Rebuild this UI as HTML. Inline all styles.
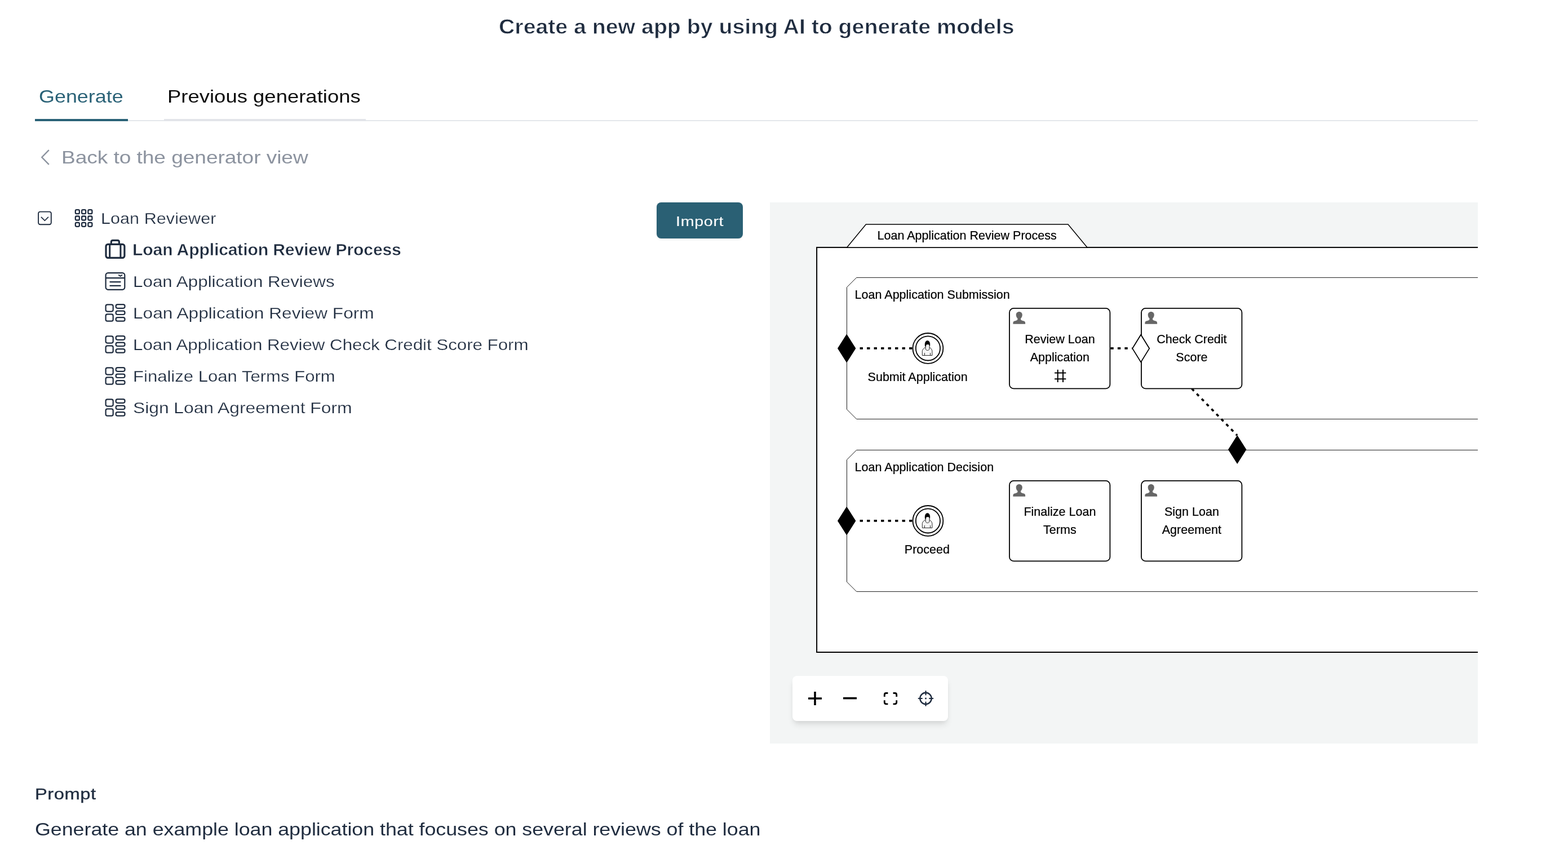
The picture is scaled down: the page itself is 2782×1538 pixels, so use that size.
<!DOCTYPE html>
<html lang="en">
<head>
<meta charset="utf-8">
<title>Create a new app by using AI to generate models</title>
<style>
*{box-sizing:border-box;margin:0;padding:0}
html,body{width:2782px;height:1538px;background:#fff;overflow:hidden}
body{font-family:"Liberation Sans", sans-serif;position:relative;color:#1f2c3f}
.tx{position:absolute;white-space:nowrap;transform-origin:0 50%;will-change:transform}
ul,li{list-style:none}
a.tx{text-decoration:none;cursor:pointer}
button{border:0;padding:0;margin:0;font:inherit;color:inherit;cursor:pointer;display:block}
.rule{position:absolute;left:62px;top:213px;width:2560px;height:2px;background:#e4e7eb}
.tabline{position:absolute;top:211px;height:4px}
.tabline.on{left:62px;width:165px;background:#2a6277}
.tabline.off{left:291px;width:358px;background:#e2e4e9}
.ic{position:absolute;overflow:visible}
.btn{position:absolute;left:1165px;top:359px;width:153px;height:64px;border-radius:8px;background:#2a6074;box-shadow:0 3px 5px -2px rgba(0,0,0,.10),0 1px 2px -1px rgba(0,0,0,.06)}
.canvas{position:absolute;left:1366px;top:359px;width:1256px;height:960px;background:#f3f5f5;overflow:hidden}
.dia{position:absolute;left:0;top:0;will-change:transform}
.dia text{stroke:#000;stroke-width:0.25px;paint-order:stroke fill}
.toolbar{position:absolute;left:40px;top:840px;width:276px;height:80px;border-radius:8px;background:#fff;box-shadow:0 8px 12px -2px rgba(0,0,0,.10),0 4px 8px -2px rgba(0,0,0,.06)}
.toolbar svg{position:absolute;left:0;top:0}
</style>
</head>
<body>
<header>
<h1 id="title" class="tx" style="left:885.05px;top:29.00px;font-size:37.5px;line-height:37.5px;font-weight:700;color:#1f2c3f;letter-spacing:-0.06px;transform:scaleX(1.05);-webkit-text-stroke:0.8px #fff;">Create a new app by using AI to generate models</h1>
</header>
<nav>
<a id="tab1" class="tx" style="left:69.05px;top:155.00px;font-size:32px;line-height:32px;font-weight:400;color:#2a6277;letter-spacing:0.03px;transform:scaleX(1.12);">Generate</a>
<a id="tab2" class="tx" style="left:297.07px;top:155.00px;font-size:32px;line-height:32px;font-weight:400;color:#0b0b0b;letter-spacing:0px;transform:scaleX(1.14);">Previous generations</a>
<div class="rule"></div>
<div class="tabline on"></div>
<div class="tabline off"></div>
</nav>
<main>
<svg class="ic" style="left:68px;top:262px" width="24" height="34" viewBox="68 262 24 34" fill="none" stroke="#8c939f" stroke-width="2.4" stroke-linecap="butt" stroke-linejoin="miter"><path d="M86.8 266.2 L74.3 279 L86.8 291.8"/></svg>
<a id="back" class="tx" style="left:109.03px;top:263.00px;font-size:32px;line-height:32px;font-weight:400;color:#8c939f;letter-spacing:-0.06px;transform:scaleX(1.16);">Back to the generator view</a>
<ul class="tree">
<li>
<svg class="ic" style="left:64px;top:368px" width="104" height="38" viewBox="64 368 104 38" fill="none" stroke="#1f2c3f" stroke-width="1.9">
<rect x="68.1" y="375.6" width="22.7" height="22.6" rx="3.2"/>
<path d="M72.9 384.8 L79.4 391.3 L85.9 384.8" stroke-width="1.7"/>
<g stroke-width="2.3"><rect x="133.85" y="372.20" width="7" height="7" rx="2"/><rect x="145.10" y="372.20" width="7" height="7" rx="2"/><rect x="156.35" y="372.20" width="7" height="7" rx="2"/><rect x="133.85" y="383.50" width="7" height="7" rx="2"/><rect x="145.10" y="383.50" width="7" height="7" rx="2"/><rect x="156.35" y="383.50" width="7" height="7" rx="2"/><rect x="133.85" y="394.80" width="7" height="7" rx="2"/><rect x="145.10" y="394.80" width="7" height="7" rx="2"/><rect x="156.35" y="394.80" width="7" height="7" rx="2"/></g>
</svg>
<span id="t0" class="tx" style="left:179.32px;top:374.00px;font-size:28px;line-height:28px;font-weight:400;color:#1f2c3f;letter-spacing:0.06px;transform:scaleX(1.09);-webkit-text-stroke:0.25px #fff;">Loan Reviewer</span>
<ul>
<li>
<svg class="ic" style="left:184px;top:422px" width="42" height="40" viewBox="184 422 42 40" fill="none" stroke="#1f2c3f" stroke-width="3.2" stroke-linejoin="round">
<rect x="188" y="433.4" width="32.9" height="24" rx="3.6"/>
<path d="M194.7 433.4 V457.4 M213.9 433.4 V457.4" stroke-width="3"/>
<path d="M197.3 433.4 V429.4 Q197.3 426.4 200.3 426.4 H208.4 Q211.4 426.4 211.4 429.4 V433.4"/>
</svg>
<strong id="t1" class="tx" style="left:235.22px;top:429.00px;font-size:29px;line-height:29px;font-weight:700;color:#1f2c3f;letter-spacing:-0.15px;transform:scaleX(1.04);-webkit-text-stroke:0.5px #fff;">Loan Application Review Process</strong>
</li>
<li>
<svg class="ic" style="left:184px;top:480px" width="42" height="38" viewBox="184 480 42 38" fill="none" stroke="#1f2c3f" stroke-width="2.2" stroke-linecap="round" stroke-linejoin="round">
<rect x="187.6" y="484.1" width="33.7" height="29.7" rx="4.2"/>
<path d="M187.6 493.1 H221.3" stroke-linecap="butt"/>
<path d="M195.4 500.1 H213.6 M195.4 506.9 H213.6"/>
<path d="M210.8 488 L213.6 489.9 L216.4 488" stroke-width="2"/>
</svg>
<span id="t2" class="tx" style="left:235.95px;top:486.00px;font-size:28px;line-height:28px;font-weight:400;color:#1f2c3f;letter-spacing:0.01px;transform:scaleX(1.12);-webkit-text-stroke:0.25px #fff;">Loan Application Reviews</span>
</li>
<li>
<svg class="ic" style="left:184px;top:537px" width="42" height="36" viewBox="184 537 42 36" fill="none" stroke="#1f2c3f" stroke-width="2.2">
<rect x="187.6" y="540.3" width="13.1" height="12.3" rx="3"/>
<rect x="187.6" y="557.4" width="13.1" height="12.3" rx="3"/>
<rect x="205.6" y="540.1" width="15.9" height="6.7" rx="3"/>
<rect x="205.6" y="551.7" width="15.9" height="6.3" rx="3"/>
<rect x="205.6" y="563.1" width="15.9" height="6.6" rx="3"/>
</svg>
<span id="t3" class="tx" style="left:235.93px;top:542.00px;font-size:28px;line-height:28px;font-weight:400;color:#1f2c3f;letter-spacing:0.01px;transform:scaleX(1.13);-webkit-text-stroke:0.25px #fff;">Loan Application Review Form</span>
</li>
<li>
<svg class="ic" style="left:184px;top:593px" width="42" height="36" viewBox="184 593 42 36" fill="none" stroke="#1f2c3f" stroke-width="2.2">
<rect x="187.6" y="596.3" width="13.1" height="12.3" rx="3"/>
<rect x="187.6" y="613.4" width="13.1" height="12.3" rx="3"/>
<rect x="205.6" y="596.1" width="15.9" height="6.7" rx="3"/>
<rect x="205.6" y="607.7" width="15.9" height="6.3" rx="3"/>
<rect x="205.6" y="619.1" width="15.9" height="6.6" rx="3"/>
</svg>
<span id="t4" class="tx" style="left:235.97px;top:598.00px;font-size:28px;line-height:28px;font-weight:400;color:#1f2c3f;letter-spacing:-0.05px;transform:scaleX(1.12);-webkit-text-stroke:0.25px #fff;">Loan Application Review Check Credit Score Form</span>
</li>
<li>
<svg class="ic" style="left:184px;top:649px" width="42" height="36" viewBox="184 649 42 36" fill="none" stroke="#1f2c3f" stroke-width="2.2">
<rect x="187.6" y="652.3" width="13.1" height="12.3" rx="3"/>
<rect x="187.6" y="669.4" width="13.1" height="12.3" rx="3"/>
<rect x="205.6" y="652.1" width="15.9" height="6.7" rx="3"/>
<rect x="205.6" y="663.7" width="15.9" height="6.3" rx="3"/>
<rect x="205.6" y="675.1" width="15.9" height="6.6" rx="3"/>
</svg>
<span id="t5" class="tx" style="left:235.98px;top:654.00px;font-size:28px;line-height:28px;font-weight:400;color:#1f2c3f;letter-spacing:-0px;transform:scaleX(1.11);-webkit-text-stroke:0.25px #fff;">Finalize Loan Terms Form</span>
</li>
<li>
<svg class="ic" style="left:184px;top:705px" width="42" height="36" viewBox="184 705 42 36" fill="none" stroke="#1f2c3f" stroke-width="2.2">
<rect x="187.6" y="708.3" width="13.1" height="12.3" rx="3"/>
<rect x="187.6" y="725.4" width="13.1" height="12.3" rx="3"/>
<rect x="205.6" y="708.1" width="15.9" height="6.7" rx="3"/>
<rect x="205.6" y="719.7" width="15.9" height="6.3" rx="3"/>
<rect x="205.6" y="731.1" width="15.9" height="6.6" rx="3"/>
</svg>
<span id="t6" class="tx" style="left:236.46px;top:710.00px;font-size:28px;line-height:28px;font-weight:400;color:#1f2c3f;letter-spacing:-0.07px;transform:scaleX(1.14);-webkit-text-stroke:0.25px #fff;">Sign Loan Agreement Form</span>
</li>
</ul>
</li>
</ul>
<button class="btn" type="button"><span id="imp" class="tx" style="left:34.18px;top:22.00px;font-size:24.5px;line-height:24.5px;font-weight:400;color:#ffffff;letter-spacing:0.57px;transform:scaleX(1.17);-webkit-text-stroke:0.1px #fff;">Import</span></button>
<section class="canvas">
<svg width="1256" height="960" viewBox="1366 359 1256 960" font-family='"Liberation Sans", sans-serif' font-size="22.2" fill="#000" class="dia">
<rect x="1449.1" y="438.9" width="1300" height="718.1" fill="#fff" stroke="#000" stroke-width="2"/>
<polygon points="1502.6,438.9 1536.4,398.1 1895,398.1 1929,438.9" fill="#fff" stroke="#000" stroke-width="1.5"/>
<text transform="translate(1715.70 425.10) scale(0.97 1)" text-anchor="middle">Loan Application Review Process</text>
<polygon points="1519.7,492.4 2720,492.4 2720,743.4 1519.7,743.4 1502.5,726.2 1502.5,509.6" fill="#fff" stroke="#111" stroke-width="0.95"/>
<text transform="translate(1516.60 530.10) scale(0.97 1)" text-anchor="start">Loan Application Submission</text>
<polygon points="1519.7,798.4 2720,798.4 2720,1049.4 1519.7,1049.4 1502.5,1032.2 1502.5,815.6" fill="#fff" stroke="#111" stroke-width="0.95"/>
<text transform="translate(1516.60 836.10) scale(0.97 1)" text-anchor="start">Loan Application Decision</text>
<path d="M1525.6 617.9 H1619.6" stroke="#000" stroke-width="3.6" stroke-dasharray="5.36 7.14" fill="none"/>
<path d="M1525.6 923.9 H1619.6" stroke="#000" stroke-width="3.6" stroke-dasharray="5.36 7.14" fill="none"/>
<path d="M1970.4 617.9 H2008.5" stroke="#000" stroke-width="3.6" stroke-dasharray="5.36 7.14" fill="none"/>
<path d="M2114.6 689.6 L2195 772.3" stroke="#000" stroke-width="3.6" stroke-dasharray="5.36 7.14" fill="none"/>
<polygon points="1486.0,618 1502.2,592.5 1518.4,618 1502.2,643.5" fill="#000"/>
<polygon points="1486.0,924.0 1502.2,898.5 1518.4,924.0 1502.2,949.5" fill="#000"/>
<circle cx="1646.45" cy="617.9" r="26.9" fill="#fff" stroke="#000" stroke-width="1.8"/>
<circle cx="1646.45" cy="617.9" r="21.6" fill="#fff" stroke="#000" stroke-width="1.8"/>
<g transform="translate(1636.00,604.00)" stroke-linejoin="round">
<path d="M5.9 12.2 C3 13.5 0.7 16 0.3 18.6 L0.3 26.5 L17.9 26.5 L17.9 18.6 C17.5 16 15.6 13.5 13.3 12.2 Z" fill="#f5f5f5" stroke="#111" stroke-width="0.9"/>
<path d="M5.9 6 L6.2 15 C6.7 17 8.7 17.6 9.6 17.6 C10.5 17.6 12.5 17 13 15 L13.3 6 Z" fill="#f1f1f1" stroke="#111" stroke-width="0.9"/>
<path d="M5.4 10.3 C4.2 4.2 6.4 0.3 9.5 0.3 C12.6 0.3 14.8 4.2 13.6 9.8 L12.7 8.6 C12.5 7.3 12 6.9 11.2 6.9 L8.6 6.9 C7.4 6.9 6.8 8 6.7 10.6 Z" fill="#000" stroke="#000" stroke-width="0.4"/>
<path d="M4.45 22 V26.2 M14.55 22 V26.2" stroke="#111" stroke-width="0.9" fill="none"/>
</g>
<circle cx="1646.45" cy="923.9" r="26.9" fill="#fff" stroke="#000" stroke-width="1.8"/>
<circle cx="1646.45" cy="923.9" r="21.6" fill="#fff" stroke="#000" stroke-width="1.8"/>
<g transform="translate(1636.00,910.00)" stroke-linejoin="round">
<path d="M5.9 12.2 C3 13.5 0.7 16 0.3 18.6 L0.3 26.5 L17.9 26.5 L17.9 18.6 C17.5 16 15.6 13.5 13.3 12.2 Z" fill="#f5f5f5" stroke="#111" stroke-width="0.9"/>
<path d="M5.9 6 L6.2 15 C6.7 17 8.7 17.6 9.6 17.6 C10.5 17.6 12.5 17 13 15 L13.3 6 Z" fill="#f1f1f1" stroke="#111" stroke-width="0.9"/>
<path d="M5.4 10.3 C4.2 4.2 6.4 0.3 9.5 0.3 C12.6 0.3 14.8 4.2 13.6 9.8 L12.7 8.6 C12.5 7.3 12 6.9 11.2 6.9 L8.6 6.9 C7.4 6.9 6.8 8 6.7 10.6 Z" fill="#000" stroke="#000" stroke-width="0.4"/>
<path d="M4.45 22 V26.2 M14.55 22 V26.2" stroke="#111" stroke-width="0.9" fill="none"/>
</g>
<text transform="translate(1628.10 676.10) scale(0.97 1)" text-anchor="middle">Submit Application</text>
<text transform="translate(1644.90 982.10) scale(0.97 1)" text-anchor="middle">Proceed</text>
<rect x="1791.0" y="546.9" width="178.4" height="142.5" rx="7.5" ry="7.5" fill="#fff" stroke="#000" stroke-width="1.8"/>
<g transform="translate(1797.4,553.0)" fill="#666"><path d="M10.85 0 C14.2 0 16.4 2.4 16.4 5.6 C16.4 8.2 15.3 10.4 13.9 11.6 C13.5 12.6 13.5 13.6 14.1 14.5 C15.4 15.5 17.6 16 19.2 16.6 C20.9 17.3 21.7 18.4 21.7 20 L21.7 21.8 L0 21.8 L0 20 C0 18.4 0.8 17.3 2.5 16.6 C4.1 16 6.3 15.5 7.6 14.5 C8.2 13.6 8.2 12.6 7.8 11.6 C6.4 10.4 5.3 8.2 5.3 5.6 C5.3 2.4 7.5 0 10.85 0 Z"/></g>
<text transform="translate(1880.40 609.10) scale(0.97 1)" text-anchor="middle">Review Loan</text>
<text transform="translate(1880.40 641.10) scale(0.97 1)" text-anchor="middle">Application</text>
<path d="M1876.7 655.7 V677.9 M1886.0 655.7 V677.9 M1871.1 661.4 H1891.3 M1871.1 672.2 H1891.3" stroke="#000" stroke-width="2" fill="none"/>
<rect x="2025.0" y="546.9" width="178.4" height="142.5" rx="7.5" ry="7.5" fill="#fff" stroke="#000" stroke-width="1.8"/>
<g transform="translate(2031.4,553.0)" fill="#666"><path d="M10.85 0 C14.2 0 16.4 2.4 16.4 5.6 C16.4 8.2 15.3 10.4 13.9 11.6 C13.5 12.6 13.5 13.6 14.1 14.5 C15.4 15.5 17.6 16 19.2 16.6 C20.9 17.3 21.7 18.4 21.7 20 L21.7 21.8 L0 21.8 L0 20 C0 18.4 0.8 17.3 2.5 16.6 C4.1 16 6.3 15.5 7.6 14.5 C8.2 13.6 8.2 12.6 7.8 11.6 C6.4 10.4 5.3 8.2 5.3 5.6 C5.3 2.4 7.5 0 10.85 0 Z"/></g>
<text transform="translate(2114.40 609.10) scale(0.97 1)" text-anchor="middle">Check Credit</text>
<text transform="translate(2114.40 641.10) scale(0.97 1)" text-anchor="middle">Score</text>
<rect x="1791.0" y="852.9" width="178.4" height="142.5" rx="7.5" ry="7.5" fill="#fff" stroke="#000" stroke-width="1.8"/>
<g transform="translate(1797.4,859.0)" fill="#666"><path d="M10.85 0 C14.2 0 16.4 2.4 16.4 5.6 C16.4 8.2 15.3 10.4 13.9 11.6 C13.5 12.6 13.5 13.6 14.1 14.5 C15.4 15.5 17.6 16 19.2 16.6 C20.9 17.3 21.7 18.4 21.7 20 L21.7 21.8 L0 21.8 L0 20 C0 18.4 0.8 17.3 2.5 16.6 C4.1 16 6.3 15.5 7.6 14.5 C8.2 13.6 8.2 12.6 7.8 11.6 C6.4 10.4 5.3 8.2 5.3 5.6 C5.3 2.4 7.5 0 10.85 0 Z"/></g>
<text transform="translate(1880.40 915.10) scale(0.97 1)" text-anchor="middle">Finalize Loan</text>
<text transform="translate(1880.40 947.10) scale(0.97 1)" text-anchor="middle">Terms</text>
<rect x="2025.0" y="852.9" width="178.4" height="142.5" rx="7.5" ry="7.5" fill="#fff" stroke="#000" stroke-width="1.8"/>
<g transform="translate(2031.4,859.0)" fill="#666"><path d="M10.85 0 C14.2 0 16.4 2.4 16.4 5.6 C16.4 8.2 15.3 10.4 13.9 11.6 C13.5 12.6 13.5 13.6 14.1 14.5 C15.4 15.5 17.6 16 19.2 16.6 C20.9 17.3 21.7 18.4 21.7 20 L21.7 21.8 L0 21.8 L0 20 C0 18.4 0.8 17.3 2.5 16.6 C4.1 16 6.3 15.5 7.6 14.5 C8.2 13.6 8.2 12.6 7.8 11.6 C6.4 10.4 5.3 8.2 5.3 5.6 C5.3 2.4 7.5 0 10.85 0 Z"/></g>
<text transform="translate(2114.40 915.10) scale(0.97 1)" text-anchor="middle">Sign Loan</text>
<text transform="translate(2114.40 947.10) scale(0.97 1)" text-anchor="middle">Agreement</text>
<polygon points="2009.2,618.1 2024.2,593.8 2039.2,618.1 2024.2,642.4" fill="#fff" stroke="#000" stroke-width="1.8" stroke-linejoin="miter"/>
<polygon points="2179.0,797.6 2195.2,772.1 2211.4,797.6 2195.2,823.1" fill="#000"/>
</svg>
<div class="toolbar">
<svg width="276" height="80" viewBox="1406 1199 276 80" fill="none">
<path d="M1434 1239 H1458 M1446 1227 V1251" stroke="#000" stroke-width="3.6"/>
<path d="M1496 1238.6 H1520" stroke="#000" stroke-width="3.6"/>
<path d="M1569.3 1236.1 V1232.5 Q1569.3 1229.5 1572.3 1229.5 H1575.4 M1584.6 1229.5 H1587.7 Q1590.7 1229.5 1590.7 1232.5 V1236.1 M1590.7 1242.3 V1245.85 Q1590.7 1248.85 1587.7 1248.85 H1584.6 M1575.4 1248.85 H1572.3 Q1569.3 1248.85 1569.3 1245.85 V1242.3" stroke="#000" stroke-width="2.8"/>
<g stroke="#1f2c3f" stroke-width="2.4">
<circle cx="1642.5" cy="1239" r="10.2"/>
<path d="M1642.5 1226.2 V1232.4 M1642.5 1245.6 V1251.8 M1629.7 1239 H1635.9 M1649.1 1239 H1655.3" stroke-linecap="round" stroke-width="2.2"/>
</g>
<rect x="1641.2" y="1237.7" width="2.6" height="2.6" fill="#1f2c3f"/>
</svg>
</div>
</section>
<section class="prompt">
<h2 id="pl" class="tx" style="left:62.08px;top:1395.00px;font-size:28px;line-height:28px;font-weight:400;color:#1f2c3f;letter-spacing:0.41px;transform:scaleX(1.17);-webkit-text-stroke:0.35px #1f2c3f;">Prompt</h2>
<p id="pt" class="tx" style="left:62.14px;top:1455.00px;font-size:32px;line-height:32px;font-weight:400;color:#1f2c3f;letter-spacing:-0.04px;transform:scaleX(1.12);">Generate an example loan application that focuses on several reviews of the loan</p>
</section>
</main>
</body>
</html>
